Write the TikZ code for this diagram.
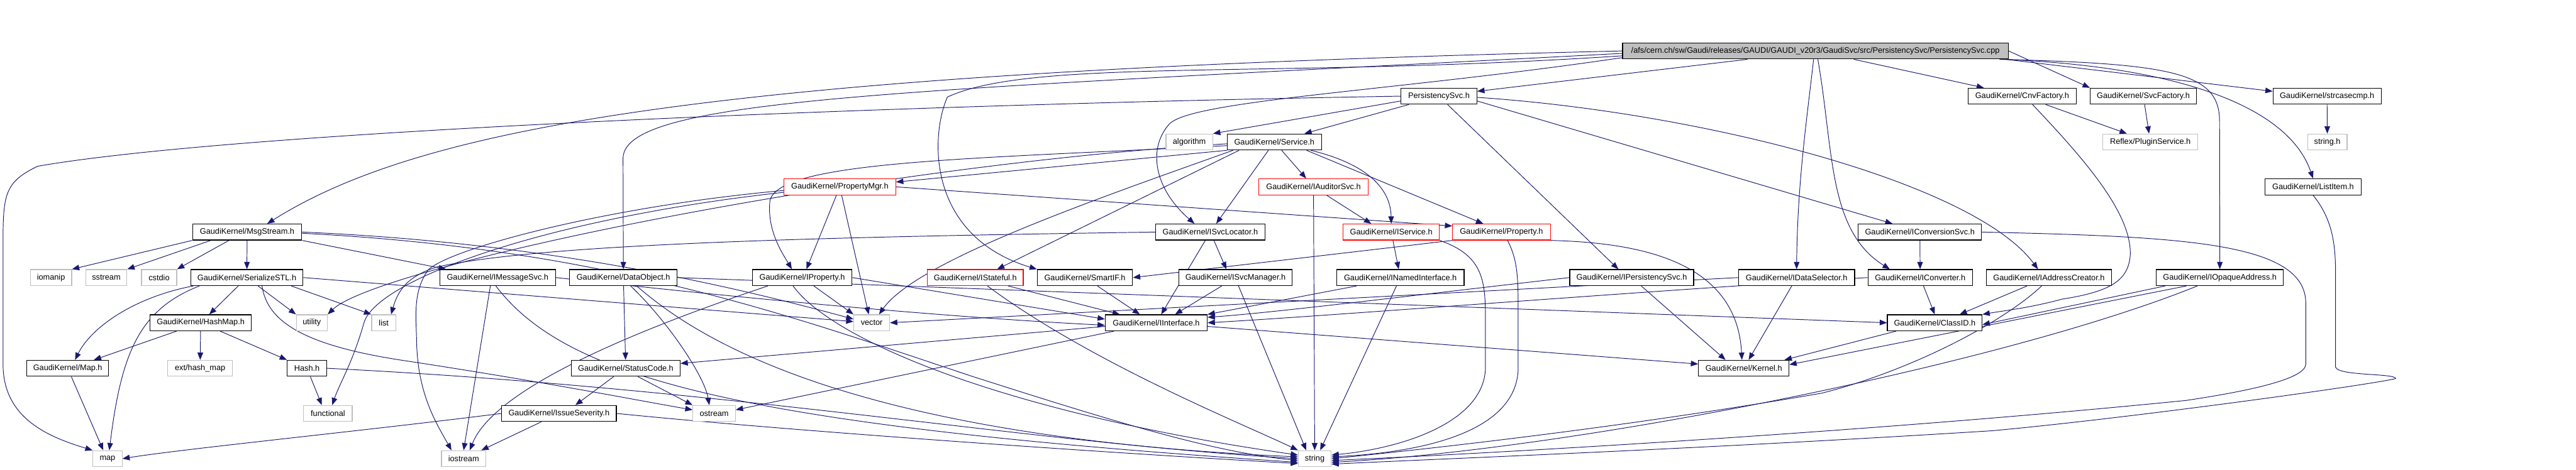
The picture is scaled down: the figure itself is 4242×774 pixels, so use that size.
\documentclass[tikz,border=0pt]{standalone}
\usepackage{fontspec}
\setmainfont{Liberation Sans}
\usetikzlibrary{arrows.meta,calc,backgrounds}
\definecolor{edgeblue}{HTML}{191970}
\definecolor{sysgray}{HTML}{BFBFBF}
\tikzset{
  nb/.style={draw=black, fill=white, line width=0.6pt, minimum height=13.2pt, inner sep=0pt,
    font=\fontsize{6.6}{7}\selectfont},
  gb/.style={nb, draw=sysgray},
  rb/.style={nb, draw=red},
  rootb/.style={nb, fill=sysgray},
  e/.style={draw=edgeblue, line width=0.5pt, -{Triangle[length=6pt,width=4.6pt]}}
}
\begin{document}
\begin{tikzpicture}[x=0.5pt,y=-0.5pt]
\useasboundingbox (0,0) rectangle (4242,774);
% ---------- nodes ----------
\node[rootb, minimum width=317.5pt] (root) at (2989.5,84) {/afs/cern.ch/sw/Gaudi/releases/GAUDI/GAUDI\_v20r3/GaudiSvc/src/PersistencySvc/PersistencySvc.cpp};
\node[nb, minimum width=62.5pt] (persh) at (2369.5,158.5) {PersistencySvc.h};
\node[nb, minimum width=89pt] (cnvf) at (3330,158.5) {GaudiKernel/CnvFactory.h};
\node[nb, minimum width=87.5pt] (svcf) at (3529.5,158.5) {GaudiKernel/SvcFactory.h};
\node[nb, minimum width=89pt] (strc) at (3832,158.5) {GaudiKernel/strcasecmp.h};
\node[gb, minimum width=38.5pt] (algo) at (1958.5,234) {algorithm};
\node[nb, minimum width=77.5pt] (serv) at (2098.5,234) {GaudiKernel/Service.h};
\node[gb, minimum width=78pt] (plug) at (3541,234) {Reflex/PluginService.h};
\node[gb, minimum width=32.5pt] (strh) at (3832.5,234) {string.h};
\node[rb, minimum width=92pt] (pmgr) at (1383,308) {GaudiKernel/PropertyMgr.h};
\node[rb, minimum width=90pt] (iaud) at (2163,308) {GaudiKernel/IAuditorSvc.h};
\node[nb, minimum width=79pt] (litem) at (3809,308) {GaudiKernel/ListItem.h};
\node[nb, minimum width=90pt] (msg) at (407,382.5) {GaudiKernel/MsgStream.h};
\node[nb, minimum width=90pt] (isvcl) at (1993,382.5) {GaudiKernel/ISvcLocator.h};
\node[rb, minimum width=79pt] (iserv) at (2291,382.5) {GaudiKernel/IService.h};
\node[rb, minimum width=80.5pt] (prop) at (2472.5,382.5) {GaudiKernel/Property.h};
\node[nb, minimum width=101.5pt] (iconvs) at (3161.5,382.5) {GaudiKernel/IConversionSvc.h};
\node[gb, minimum width=34pt] (iomanip) at (84,457.5) {iomanip};
\node[gb, minimum width=34pt] (sstream) at (175,457.5) {sstream};
\node[gb, minimum width=29pt] (cstdio) at (262,457.5) {cstdio};
\node[nb, minimum width=92.5pt] (ser) at (406.5,457.5) {GaudiKernel/SerializeSTL.h};
\node[nb, minimum width=95.5pt] (imsg) at (819.5,457.5) {GaudiKernel/IMessageSvc.h};
\node[nb, minimum width=88.5pt] (dobj) at (1026.5,457.5) {GaudiKernel/DataObject.h};
\node[nb, minimum width=82pt] (iprop) at (1321,457.5) {GaudiKernel/IProperty.h};
\node[rb, minimum width=79pt] (istate) at (1606,457.5) {GaudiKernel/IStateful.h};
\node[nb, minimum width=78.5pt] (smart) at (1786.5,457.5) {GaudiKernel/SmartIF.h};
\node[nb, minimum width=93.5pt] (isvcm) at (2034.5,457.5) {GaudiKernel/ISvcManager.h};
\node[nb, minimum width=105pt] (inamed) at (2306,457.5) {GaudiKernel/INamedInterface.h};
\node[nb, minimum width=102pt] (ipers) at (2687,457.5) {GaudiKernel/IPersistencySvc.h};
\node[nb, minimum width=95.5pt] (idsel) at (2958.5,457.5) {GaudiKernel/IDataSelector.h};
\node[nb, minimum width=86pt] (iconv) at (3162,457.5) {GaudiKernel/IConverter.h};
\node[nb, minimum width=103pt] (iaddr) at (3374,457.5) {GaudiKernel/IAddressCreator.h};
\node[nb, minimum width=104.5pt] (iopaq) at (3655.5,457.5) {GaudiKernel/IOpaqueAddress.h};
\node[nb, minimum width=83.5pt] (hashmap) at (330.5,532) {GaudiKernel/HashMap.h};
\node[gb, minimum width=25.5pt] (utility) at (513.5,532) {utility};
\node[gb, minimum width=20pt] (list) at (632,532) {list};
\node[gb, minimum width=29.5pt] (vector) at (1435.5,532) {vector};
\node[nb, minimum width=84pt] (iint) at (1904,532) {GaudiKernel/IInterface.h};
\node[nb, minimum width=78pt] (classid) at (3186,532) {GaudiKernel/ClassID.h};
\node[nb, minimum width=67.5pt] (mapH) at (111.5,607) {GaudiKernel/Map.h};
\node[gb, minimum width=53.5pt] (exthm) at (329.5,607) {ext/hash\_map};
\node[nb, minimum width=32.5pt] (hash) at (505.5,607) {Hash.h};
\node[nb, minimum width=89.5pt] (status) at (1030.5,607) {GaudiKernel/StatusCode.h};
\node[nb, minimum width=74.5pt] (kernel) at (2871.5,607) {GaudiKernel/Kernel.h};
\node[gb, minimum width=40pt] (functional) at (540,681.5) {functional};
\node[nb, minimum width=94.5pt] (issue) at (920.5,681.5) {GaudiKernel/IssueSeverity.h};
\node[gb, minimum width=35pt] (ostream) at (1176,681.5) {ostream};
\node[gb, minimum width=24pt] (map) at (177,756) {map};
\node[gb, minimum width=36.5pt] (iostream) at (763.5,756) {iostream};
\node[gb, minimum width=27pt] (string) at (2165,756) {string};
\begin{scope}[on background layer]
% ---------- edges: root ----------
\draw[e] ($(root.south)+(-112,0)$) -- ($(persh.east)+(0,-8)$);
\draw[e] (root.west) .. controls (1200,118) and (700,205) .. ($(msg.north)+(33,0)$);
\draw[e] ($(root.west)+(0,4)$) .. controls (1500,150) and (1030,160) .. (1026,260) -- (dobj.north);
\draw[e] ($(root.west)+(0,8)$) .. controls (2100,130) and (1700,95) .. (1560,160) .. controls (1530,230) and (1530,390) .. (smart.north west);
\draw[e] ($(root.west)+(0,11)$) .. controls (2300,150) and (1960,165) .. (1925,205) .. controls (1890,245) and (1900,310) .. ($(isvcl.north)+(-26,0)$);
\draw[e] (root) -- (cnvf);
\draw[e] (root.east) -- (svcf.north west);
\draw[e] ($(root.south east)+(-5,0)$) -- ($(strc.west)+(0,-8)$);
\draw[e] ($(root.south east)+(-10,0)$) .. controls (3600,110) and (3770,180) .. (litem.north);
\draw[e] ($(root.south east)+(-15,0)$) .. controls (3580,105) and (3655,120) .. (3655,200) -- (iopaq.north);
\draw[e] ($(root.south)+(-3,0)$) .. controls (2975,200) and (2960,300) .. (idsel.north);
\draw[e] ($(root.south)+(4,0)$) .. controls (3020,250) and (3010,380) .. ($(iconv.north)+(-50,0)$);
% ---------- PersistencySvc.h ----------
\draw[e] (persh.west) .. controls (1500,172) and (400,215) .. (62,274) .. controls (8,300) and (5,320) .. (5,400) -- (5,600) .. controls (5,690) and (80,720) .. (map.north west);
\draw[e] ($(persh.west)+(0,8)$) -- (algo.north east);
\draw[e] (persh) -- (serv);
\draw[e] (persh) -- ($(ipers.north)+(-22,0)$);
\draw[e] ($(persh.east)+(0,8)$) -- ($(iconvs.north)+(-45,0)$);
\draw[e] ($(persh.east)+(0,2)$) .. controls (2800,185) and (3250,300) .. ($(iaddr.north)+(-18,0)$);
% ---------- Service.h ----------
\draw[e] (serv.south west) -- ($(pmgr.east)+(0,-8)$);
\draw[e] (serv) -- (iaud);
\draw[e] (serv) -- (isvcl);
\draw[e] ($(serv.south east)+(-18,0)$) .. controls (2250,270) and (2290,310) .. (iserv.north);
\draw[e] ($(serv.south east)+(-25,0)$) -- ($(prop.north)+(-30,0)$);
\draw[e] ($(serv.south west)+(20,0)$) -- ($(istate.north)+(36,0)$);
\draw[e] ($(serv.south west)+(10,0)$) .. controls (1800,330) and (1510,430) .. ($(vector.north)+(12,0)$);
\draw[e] ($(serv.west)+(0,6)$) .. controls (1600,262) and (1285,265) .. (1268,330) .. controls (1262,380) and (1290,420) .. ($(iprop.north)+(-17,0)$);
\draw[e] ($(serv.west)+(0,3)$) .. controls (1400,275) and (620,440) .. (utility.north east);
% ---------- PropertyMgr.h ----------
\draw[e] (pmgr) -- ($(iprop.north)+(7,0)$);
\draw[e] ($(pmgr.south)+(3,0)$) -- ($(vector.north)+(-5,0)$);
\draw[e] (pmgr.east) -- ($(prop.west)+(0,-10)$);
\draw[e] ($(pmgr.west)+(0,6)$) .. controls (1000,340) and (740,410) .. (705,445) .. controls (680,480) and (685,520) .. (686,560) .. controls (687,650) and (720,700) .. ($(iostream.north)+(-20,0)$);
\draw[e] ($(pmgr.west)+(0,9)$) .. controls (900,360) and (625,460) .. (600,530) .. controls (580,600) and (560,630) .. ($(functional.north)+(7,0)$);
% ---------- ISvcLocator.h ----------
\draw[e] (isvcl.west) .. controls (1400,390) and (900,400) .. (720,440) .. controls (670,455) and (655,480) .. ($(list.north)+(12,0)$);
\draw[e] (isvcl) -- (iint);
\draw[e] (isvcl) -- ($(isvcm.north)+(-15,0)$);
% ---------- MsgStream.h ----------
\draw[e] (msg.south west) -- (iomanip.north east);
\draw[e] ($(msg.south)+(-60,0)$) -- (sstream.north east);
\draw[e] ($(msg.south)+(-30,0)$) -- (cstdio.north east);
\draw[e] (msg) -- (ser);
\draw[e] (msg.south east) -- ($(imsg.north west)+(11,0)$);
\draw[e] (msg.east) .. controls (900,400) and (1200,470) .. ($(vector.west)+(0,-6)$);
\draw[e] ($(msg.east)+(0,2)$) .. controls (1000,410) and (1300,520) .. (1600,620) .. controls (1850,700) and (2000,745) .. ($(string.west)+(0,3)$);
% ---------- SerializeSTL.h ----------
\draw[e] (ser) -- (hashmap);
\draw[e] ($(ser.south west)+(5,0)$) .. controls (220,490) and (150,540) .. ($(mapH.north)+(12,0)$);
\draw[e] ($(ser.south west)+(15,0)$) .. controls (230,510) and (200,580) .. ($(map.north)+(3,0)$);
\draw[e] (ser) -- (utility.north west);
\draw[e] ($(ser.south east)+(-20,0)$) -- (list.north west);
\draw[e] (ser.east) -- ($(vector.west)+(0,-2)$);
\draw[e] ($(ser.south)+(25,0)$) .. controls (440,530) and (500,570) .. (670,595) .. controls (900,630) and (1050,660) .. ($(ostream.west)+(0,-6)$);
% ---------- HashMap.h / Map.h / Hash.h ----------
\draw[e] (hashmap) -- ($(mapH.north east)+(-25,0)$);
\draw[e] (hashmap) -- (exthm);
\draw[e] (hashmap) -- (hash.north west);
\draw[e] (mapH) -- ($(map.north)+(-7,0)$);
\draw[e] (hash) -- ($(functional.north)+(-10,0)$);
\draw[e] (hash.east) .. controls (1200,640) and (1700,730) .. (string.west);
% ---------- IMessageSvc.h ----------
\draw[e] ($(imsg.south)+(-12,0)$) -- (iostream.north);
\draw[e] ($(imsg.south)+(-3,0)$) .. controls (930,620) and (1200,700) .. ($(string.west)+(0,6)$);
\draw[e] (imsg.east) .. controls (1300,500) and (1600,525) .. ($(iint.west)+(0,4)$);
% ---------- DataObject.h ----------
\draw[e] (dobj) -- (status);
\draw[e] ($(dobj.south)+(12,0)$) .. controls (1100,530) and (1160,620) .. ($(ostream.north)+(-8,0)$);
\draw[e] ($(dobj.south)+(22,0)$) .. controls (1150,560) and (1400,720) .. ($(string.west)+(0,-3)$);
\draw[e] (dobj.east) -- (classid.west);
% ---------- IProperty.h ----------
\draw[e] (iprop) -- (vector.north west);
\draw[e] (iprop.east) -- ($(iint.west)+(0,-6)$);
\draw[e] ($(iprop.south)+(-15,0)$) .. controls (1370,560) and (1650,680) .. ($(string.west)+(0,-6)$);
\draw[e] ($(iprop.south west)+(26,0)$) .. controls (1000,560) and (810,650) .. ($(iostream.north)+(10,0)$);
% ---------- interfaces row ----------
\draw[e] (istate) -- ($(iint.north)+(-60,0)$);
\draw[e] ($(istate.south)+(20,0)$) .. controls (1800,600) and (2050,700) .. (string.north west);
\draw[e] (smart) -- ($(iint.north)+(-27,0)$);
\draw[e] (isvcm) -- ($(iint.north)+(31,0)$);
\draw[e] ($(isvcm.south)+(5,0)$) -- ($(string.north)+(-14,0)$);
\draw[e] (inamed) -- (iint.north east);
\draw[e] (inamed) -- ($(string.north)+(9,0)$);
\draw[e] (iaud) -- (string);
\draw[e] (iaud) -- ($(iserv.north)+(-33,0)$);
\draw[e] (iserv) -- (inamed);
\draw[e] (iserv.south east) .. controls (2440,420) and (2446,460) .. (2446,520) -- (2446,610) .. controls (2440,700) and (2300,740) .. ($(string.east)+(0,-6)$);
\draw[e] ($(prop.south)+(10,0)$) .. controls (2500,430) and (2500,460) .. (2500,520) -- (2500,610) .. controls (2495,710) and (2350,745) .. ($(string.east)+(0,-3)$);
\draw[e] (prop.south east) .. controls (2700,400) and (2860,430) .. ($(kernel.north)+(-3,0)$);
\draw[e] (prop.south west) -- (smart.east);
\draw[e] (ipers) -- ($(kernel.north)+(-30,0)$);
\draw[e] (ipers.west) .. controls (2300,490) and (2100,515) .. ($(iint.east)+(0,-9)$);
\draw[e] (idsel) -- ($(kernel.north)+(8,0)$);
\draw[e] (idsel.west) -- (vector.east);
\draw[e] (iconv) -- (classid.north);
\draw[e] (iconv.west) .. controls (2700,480) and (2200,520) .. (iint.east);
\draw[e] (iconvs) -- (iconv);
\draw[e] (iconvs.east) .. controls (3600,390) and (3797,400) .. (3797,500) -- (3797,600) .. controls (3797,625) and (3700,645) .. (3600,660) .. controls (3100,710) and (2500,745) .. ($(string.east)+(0,3)$);
\draw[e] ($(iaddr.south)+(-36,0)$) -- ($(classid.north)+(41,0)$);
\draw[e] ($(iaddr.south)+(-12,0)$) .. controls (3300,530) and (3150,610) .. (3000,648) .. controls (2700,700) and (2400,735) .. ($(string.east)+(0,0)$);
\draw[e] ($(iopaq.south west)+(15,0)$) -- ($(classid.east)+(0,3)$);
\draw[e] ($(iopaq.south west)+(50,0)$) -- ($(kernel.east)+(0,-6)$);
\draw[e] ($(iopaq.south west)+(68,0)$) .. controls (3300,600) and (2600,740) .. ($(string.east)+(0,6)$);
\draw[e] ($(classid.south west)+(15,0)$) -- ($(kernel.north east)+(-8,0)$);
\draw[e] (cnvf) -- (plug);
\draw[e] ($(cnvf.south)+(17,0)$) .. controls (3430,260) and (3510,350) .. (3508,420) .. controls (3505,460) and (3480,480) .. (3396,493) .. controls (3340,508) and (3300,512) .. (classid.north east);
\draw[e] (svcf) -- (plug);
\draw[e] (strc) -- (strh);
\draw[e] (litem.south) .. controls (3840,360) and (3846,400) .. (3846,450) -- (3846,605) .. controls (3850,620) and (3945,615) .. (3945,624) .. controls (3900,635) and (3500,690) .. (3280,710) .. controls (2800,740) and (2400,755) .. ($(string.east)+(0,9)$);
% ---------- IInterface.h ----------
\draw[e] ($(iint.west)+(0,6)$) -- ($(status.east)+(0,-8)$);
\draw[e] ($(iint.south west)+(15,0)$) -- ($(ostream.east)+(0,-6)$);
\draw[e] ($(iint.east)+(0,6)$) -- ($(kernel.west)+(0,-7)$);
% ---------- StatusCode / IssueSeverity ----------
\draw[e] ($(status.south)+(-20,0)$) -- ($(issue.north)+(27,0)$);
\draw[e] ($(status.south)+(20,0)$) -- (ostream.north west);
\draw[e] (issue) -- ($(iostream.north east)+(-8,0)$);
\draw[e] (issue.west) .. controls (600,710) and (300,740) .. (map.east);
\draw[e] (issue.east) .. controls (1300,710) and (1800,745) .. ($(string.west)+(0,8)$);
\end{scope}
\end{tikzpicture}
\end{document}
